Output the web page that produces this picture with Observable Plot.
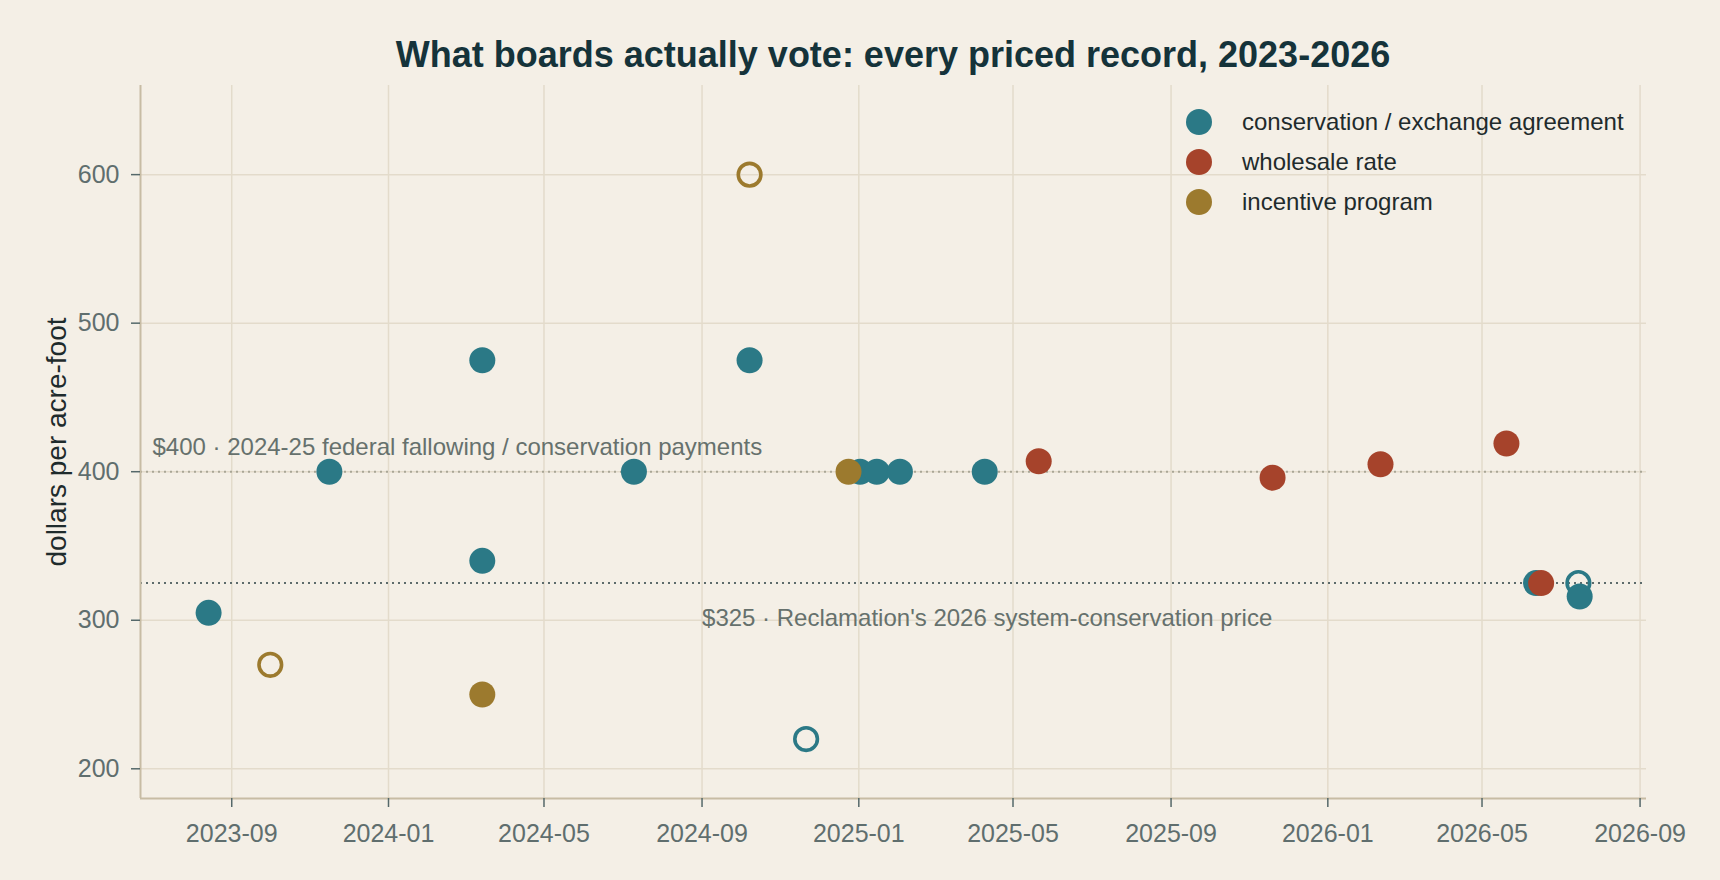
<!DOCTYPE html>
<html><head><meta charset="utf-8">
<script src="https://cdn.jsdelivr.net/npm/d3@7"></script>
<script src="https://cdn.jsdelivr.net/npm/@observablehq/plot@0.6"></script>
<style>
html,body{margin:0;padding:0;background:#f4efe6;}
body{width:1720px;height:880px;position:relative;overflow:hidden;font-family:"Liberation Sans",Arial,Helvetica,sans-serif;}
#title{position:absolute;left:140px;width:1506px;top:35px;height:40px;line-height:40px;text-align:center;font-weight:bold;font-size:36px;color:#15333a;}
#chart{position:absolute;left:0;top:80px;}
#legend{position:absolute;left:1186px;top:102px;}
.row{display:flex;align-items:center;height:40px;font-size:24px;color:#1f2b2c;white-space:nowrap;}
.sw{width:26px;height:26px;border-radius:50%;margin-right:30px;flex:none;}
</style></head><body>
<div id="title"></div>
<div id="chart"></div>
<div id="legend"></div>
<script>
const titleText = "What boards actually vote: every priced record, 2023-2026";
const yLabel = "dollars per acre-foot";

const typeKeys = ["C", "W", "I"];
const typeNames = ["conservation / exchange agreement", "wholesale rate", "incentive program"];
const typeColors = ["#2b7986", "#a6432b", "#9c7a2e"];

const recordDates = ["2023-08-14","2023-10-01","2023-11-16","2024-03-14","2024-03-14","2024-03-14","2024-07-10","2024-10-08","2024-10-08","2024-11-21","2024-12-24","2025-01-02","2025-01-15","2025-02-02","2025-04-09","2025-05-21","2025-11-19","2026-02-11","2026-05-20","2026-06-12","2026-06-16","2026-07-15","2026-07-16"];
const recordPrices = [305, 270, 400, 475, 340, 250, 400, 475, 600, 220, 400, 400, 400, 400, 400, 407, 396, 405, 419, 325, 325, 325, 316];
const recordTypes = ["C","I","C","C","C","I","C","C","I","C","I","C","C","C","C","W","W","W","W","C","W","C","C"];
const recordHollow = [false,true,false,false,false,false,false,false,true,true,false,false,false,false,false,false,false,false,false,false,false,true,false];

const refValues = [400, 325];
const refLabels = ["$400 · 2024-25 federal fallowing / conservation payments", "$325 · Reclamation's 2026 system-conservation price"];
const refLineColors = ["#a9a696", "#5d6b6b"];
const refLabelDate = "2024-09-01";

const xTickLabels = ["2023-09","2024-01","2024-05","2024-09","2025-01","2025-05","2025-09","2026-01","2026-05","2026-09"];
const yTicks = [200, 300, 400, 500, 600];
const xDomain = ["2023-06-22", "2026-09-06"];
const yDomain = [180, 660];

document.getElementById("title").textContent = titleText;

const nameOf = k => typeNames[typeKeys.indexOf(k)];
const records = recordDates.map((d, i) => ({
  date: new Date(d), price: recordPrices[i], type: nameOf(recordTypes[i]), key: recordTypes[i], hollow: recordHollow[i]
}));
const hollow = records.filter(d => d.hollow);
const filled = typeKeys.flatMap(k => records.filter(d => !d.hollow && d.key === k));
const xTicks = xTickLabels.map(s => new Date(s + "-01"));
const xd = xDomain.map(s => new Date(s));
const refs = refValues.map((v, i) => ({value: v, label: refLabels[i], color: refLineColors[i]}));

const chart = Plot.plot({
  width: 1720, height: 800,
  marginTop: 5, marginBottom: 82, marginLeft: 140, marginRight: 74,
  style: {background: "transparent", fontFamily: "'Liberation Sans', Arial, sans-serif", overflow: "visible"},
  x: {type: "utc", domain: xd, label: null},
  y: {domain: yDomain, label: null},
  color: {domain: typeNames, range: typeColors},
  marks: [
    Plot.gridX(xTicks, {stroke: "#e3dbcb", strokeOpacity: 1, strokeWidth: 1.5}),
    Plot.gridY(yTicks, {stroke: "#e3dbcb", strokeOpacity: 1, strokeWidth: 1.5}),
    Plot.ruleY(refs, {y: "value", stroke: "color", strokeWidth: 2, strokeDasharray: "2,4"}),
    Plot.text([refs[0]], {y: "value", frameAnchor: "left", dx: 12, dy: -24, text: "label", textAnchor: "start", fill: "#66716d", fontSize: 24}),
    Plot.text([refs[1]], {x: () => new Date(refLabelDate), y: "value", dy: 35, text: "label", textAnchor: "start", fill: "#66716d", fontSize: 24}),
    Plot.ruleX([xd[0]], {stroke: "#c7bca4", strokeWidth: 2}),
    Plot.ruleY([yDomain[0]], {stroke: "#c7bca4", strokeWidth: 2}),
    Plot.axisX(xTicks, {tickSize: 9, tickPadding: 17, stroke: "#55686a", strokeWidth: 1.5, fill: "#5f6e6e", fontSize: 25, tickFormat: d3.utcFormat("%Y-%m"), label: null}),
    Plot.axisY(yTicks, {tickSize: 9, tickPadding: 12, stroke: "#55686a", strokeWidth: 1.5, fill: "#5f6e6e", fontSize: 25, label: null}),
    Plot.text([yLabel], {frameAnchor: "left", rotate: -90, dx: -83, text: d => d, textAnchor: "middle", fill: "#1f2b2c", fontSize: 28, lineAnchor: "middle"}),
    Plot.dot(hollow, {x: "date", y: "price", stroke: "type", fill: "none", r: 11.3, strokeWidth: 3.6}),
    Plot.dot(filled, {x: "date", y: "price", fill: "type", r: 13})
  ]
});
document.getElementById("chart").appendChild(chart);

const legend = document.getElementById("legend");
typeNames.forEach((n, i) => {
  const row = document.createElement("div");
  row.className = "row";
  const sw = document.createElement("span");
  sw.className = "sw";
  sw.style.background = typeColors[i];
  const t = document.createElement("span");
  t.textContent = n;
  row.appendChild(sw); row.appendChild(t);
  legend.appendChild(row);
});
</script></body></html>
